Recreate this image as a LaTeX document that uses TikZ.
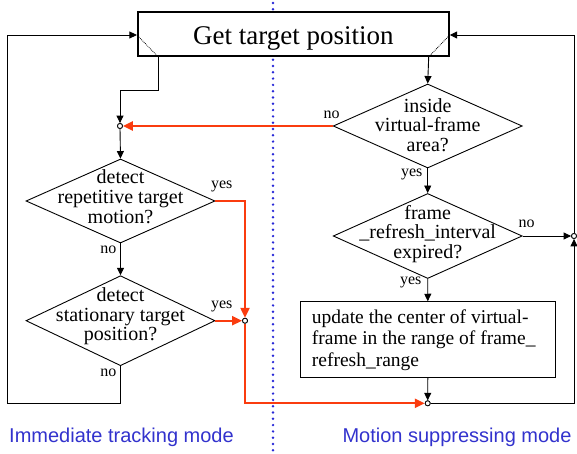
\documentclass[tikz,border=0pt]{standalone}
\usepackage{fontspec}
\setmainfont{Liberation Serif}
\newfontfamily\modefont{Liberation Sans}
\usetikzlibrary{shapes.geometric,arrows.meta,calc}
\definecolor{redline}{RGB}{250,60,15}
\definecolor{modeblue}{RGB}{50,50,205}
\definecolor{dotblue}{RGB}{40,40,215}
\begin{document}
\begin{tikzpicture}[x=1pt,y=-1pt,
  dia/.style={draw, diamond, minimum width=189pt, minimum height=#1, inner sep=0pt, line width=0.9pt},
  dtext/.style={align=center, font=\fontsize{20}{19.7}\selectfont, inner sep=0pt},
  jn/.style={circle, draw, fill=white, minimum size=5pt, inner sep=0pt, line width=0.8pt},
  arr/.style={line width=0.9pt, -{Triangle[length=7.5pt,width=7pt]}},
  rarr/.style={draw=redline, line width=2.2pt, -{Triangle[length=10pt,width=9pt]}},
  lbl/.style={font=\fontsize{16}{16}\selectfont, inner sep=0pt},
  modelbl/.style={font=\modefont\fontsize{20}{20}\selectfont, text=modeblue, inner sep=0pt},
  boxnode/.style={draw, line width=0.9pt, inner sep=0pt}
]
\useasboundingbox (0,0) rectangle (577,454);

% separator (blue dots)
\foreach \k in {0,...,71} {
  \fill[dotblue] (273,3+6.3*\k) circle (1.35pt);
}

% title
\node[boxnode, line width=1.8pt, minimum width=311pt, minimum height=44.3pt, fill=white] (title) at (293.3,33.8) {};
\node[font=\fontsize{27}{27}\selectfont, anchor=base, inner sep=0pt] (titletext) at (293.3,45) {Get target position};
\coordinate (tl) at ($(title.south west)+(21.3,0)$);
\coordinate (tr) at ($(title.south east)+(-21,0)$);
\draw[densely dotted, line width=0.8pt] (tl) -- ($(title.west)+(0,1.2)$);
\draw[densely dotted, line width=0.8pt] (tr) -- ($(title.east)+(0,1.2)$);

% left column
\node[jn] (c1) at (120,126) {};
\node[dia=84pt] (drep) at (120.5,201) {};
\node[dtext] at ($(drep)+(0,-4.3)$) {detect\\repetitive target\\motion?};
\node[dia=90pt] (dstat) at (120.5,320.7) {};
\node[dtext] at ($(dstat)+(0,-4.4)$) {detect\\stationary target\\position?};
\node[jn] (c2) at (245,320.7) {};

% right column
\node[dia=84pt] (din) at (427.7,126) {};
\node[dtext] at ($(din)+(0,-0.8)$) {inside\\virtual-frame\\area?};
\node[dia=85pt] (dfr) at (427.7,236) {};
\node[dtext] at ($(dfr)+(0,-2.2)$) {frame\\\_refresh\_interval\\expired?};
\node[boxnode, minimum width=255.7pt, minimum height=75.6pt] (upd) at (427.8,339.5) {};
\node[anchor=north west, align=left, inner sep=0pt, font=\fontsize{19.5}{21.8}\selectfont] (updtext) at (311.7,309.1)
  {update the center of virtual-\\frame in the range of frame\_\\refresh\_range};
\node[jn] (c3) at (427.7,403.3) {};
\node[jn] (c4) at (574,236) {};

\coordinate (lb) at (7,403);
\coordinate (lt) at (7,35);

% black connectors
\draw[arr] (tl) |- ($(c1)+(0,-36)$) -- (c1.north);
\draw[arr] (c1.south) -- (drep.north);
\draw[arr] (drep.south) -- (dstat.north);
\draw[arr] (dstat.south) |- (lb) -- (lt) -- (title.west |- lt);
\draw[arr] (tr) -- (din.north);
\draw[arr] (din.south) -- (dfr.north);
\draw[arr] (dfr.east) -- (c4.west);
\draw[arr] (dfr.south) -- (upd.north);
\draw[arr] (upd.south) -- (c3.north);
\draw[arr] (c3.east) -| (c4.south);
\draw[arr] (c4.north) |- (title.east |- lt);

% red connectors
\draw[rarr] (din.west) -- (c1.east);
\draw[rarr] (drep.east) -| (c2.north);
\draw[rarr] (dstat.east) -- (c2.west);
\draw[rarr] (c2.south) |- (c3.west);

% redraw junctions on top
\node[jn] at (c1) {};
\node[jn] at (c2) {};
\node[jn] at (c3) {};
\node[jn] at (c4) {};

% labels
\node[lbl] at (331.7,115) {no};
\node[lbl] at (411.7,174) {yes};
\node[lbl] at (526.7,224) {no};
\node[lbl] at (410.7,282.7) {yes};
\node[lbl] at (221.7,186.7) {yes};
\node[lbl] at (108.3,250) {no};
\node[lbl] at (221.7,306.7) {yes};
\node[lbl] at (108.3,372.7) {no};

\node[modelbl] (m1) at (121.5,437.5) {Immediate tracking mode};
\node[modelbl] (m2) at (457,437.5) {Motion suppressing mode};
\end{tikzpicture}
\end{document}
